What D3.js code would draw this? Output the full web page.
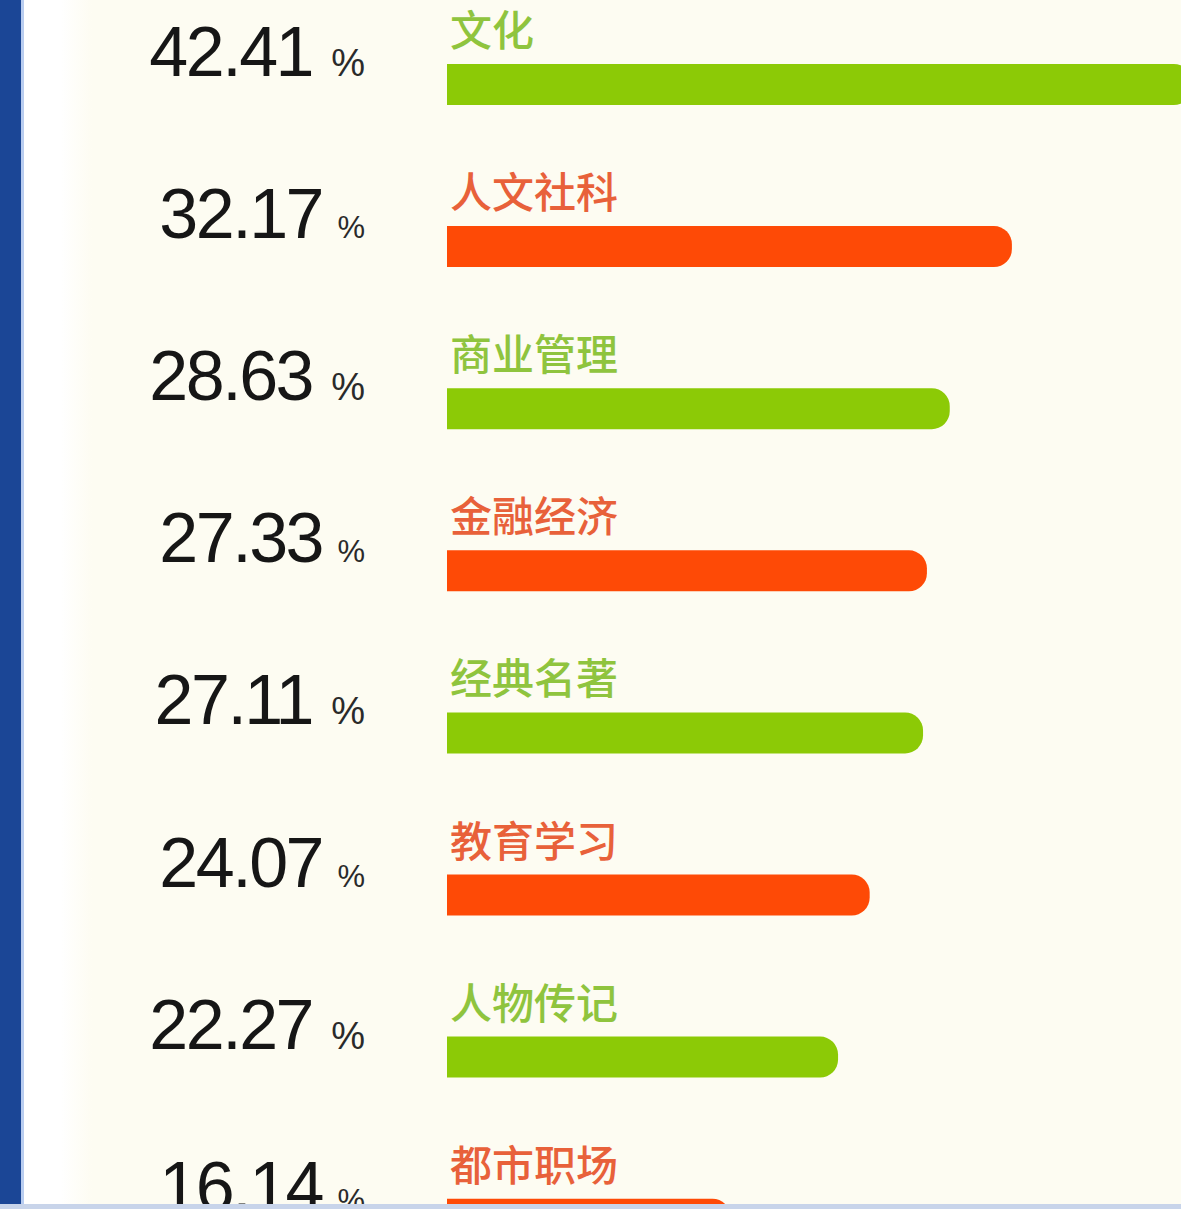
<!DOCTYPE html>
<html>
<head>
<meta charset="utf-8">
<script src="https://cdn.jsdelivr.net/npm/d3@7"></script>
<style>
  html, body { margin: 0; padding: 0; background: #fdfcf2; overflow: hidden; }
  svg { display: block; }
</style>
</head>
<body>
<svg id="chart" width="1181" height="1209"></svg>
<script>
const categories = ["文化", "人文社科", "商业管理", "金融经济", "经典名著", "教育学习", "人物传记", "都市职场"];
const values = [42.41, 32.17, 28.63, 27.33, 27.11, 24.07, 22.27, 16.14];
const valueLabels = ["42.41", "32.17", "28.63", "27.33", "27.11", "24.07", "22.27", "16.14"];
const unitLabel = "%";

const W = 1181, H = 1209;
const svg = d3.select("#chart");

// background
svg.append("rect").attr("width", W).attr("height", H).attr("fill", "#fdfcf2");
const defs = svg.append("defs");
const g = defs.append("linearGradient").attr("id", "fade").attr("x1", 0).attr("x2", 1);
g.append("stop").attr("offset", 0).attr("stop-color", "#ffffff");
g.append("stop").attr("offset", 0.55).attr("stop-color", "#ffffff");
g.append("stop").attr("offset", 1).attr("stop-color", "#fdfcf2");
svg.append("rect").attr("x", 22).attr("y", 0).attr("width", 70).attr("height", H).attr("fill", "url(#fade)");
svg.append("rect").attr("x", 0).attr("y", 0).attr("width", 21).attr("height", H).attr("fill", "#1b4696");
svg.append("rect").attr("x", 21).attr("y", 0).attr("width", 3).attr("height", H).attr("fill", "#b9cdf0");

// scales
const step = 162.1, barH = 41;
const pad = 1 - barH / step;
const y = d3.scaleBand().domain(categories)
  .range([64, 64 + step * (categories.length - pad)])
  .paddingInner(pad).paddingOuter(0);
const x = d3.scaleLinear().domain([0, 42.41]).range([447, 447 + 42.41 * 17.56]);

const greenBar = "#8cca06", orangeBar = "#fe4a06";
const greenText = "#8fc43e", orangeText = "#e8613a";

function barPath(x0, x1, top, h, r) {
  const b = top + h;
  return `M${x0},${top}H${x1 - r}A${r},${r} 0 0 1 ${x1},${top + r}V${b - r}A${r},${r} 0 0 1 ${x1 - r},${b}H${x0}Z`;
}

const rows = svg.append("g").selectAll("g").data(categories).join("g");

rows.append("path")
  .attr("d", (d, i) => barPath(x(0), x(values[i]), y(d), y.bandwidth(), 18))
  .attr("fill", (d, i) => i % 2 === 0 ? greenBar : orangeBar);

rows.append("text")
  .attr("x", 450)
  .attr("y", d => y(d) - 18)
  .attr("font-family", "'Noto Sans CJK SC', sans-serif")
  .attr("font-weight", 500)
  .attr("font-size", 42)
  .attr("fill", (d, i) => i % 2 === 0 ? greenText : orangeText)
  .text(d => d);

rows.append("text")
  .attr("x", (d, i) => i % 2 === 0 ? 312 : 322)
  .attr("y", d => y(d) + 12)
  .attr("text-anchor", "end")
  .attr("font-family", "'Liberation Sans', Arial, sans-serif")
  .attr("font-size", 70)
  .attr("letter-spacing", -2.5)
  .attr("fill", "#161616")
  .text((d, i) => valueLabels[i]);

rows.append("text")
  .attr("x", 365)
  .attr("y", d => y(d) + 12)
  .attr("text-anchor", "end")
  .attr("font-family", "'Liberation Sans', Arial, sans-serif")
  .attr("font-size", (d, i) => i % 2 === 0 ? 38 : 31)
  .attr("fill", "#2a2a2a")
  .text(unitLabel);

// bottom strip
svg.append("rect").attr("x", 0).attr("y", 1204).attr("width", W).attr("height", 5).attr("fill", "#c8d4ea");
</script>
</body>
</html>
